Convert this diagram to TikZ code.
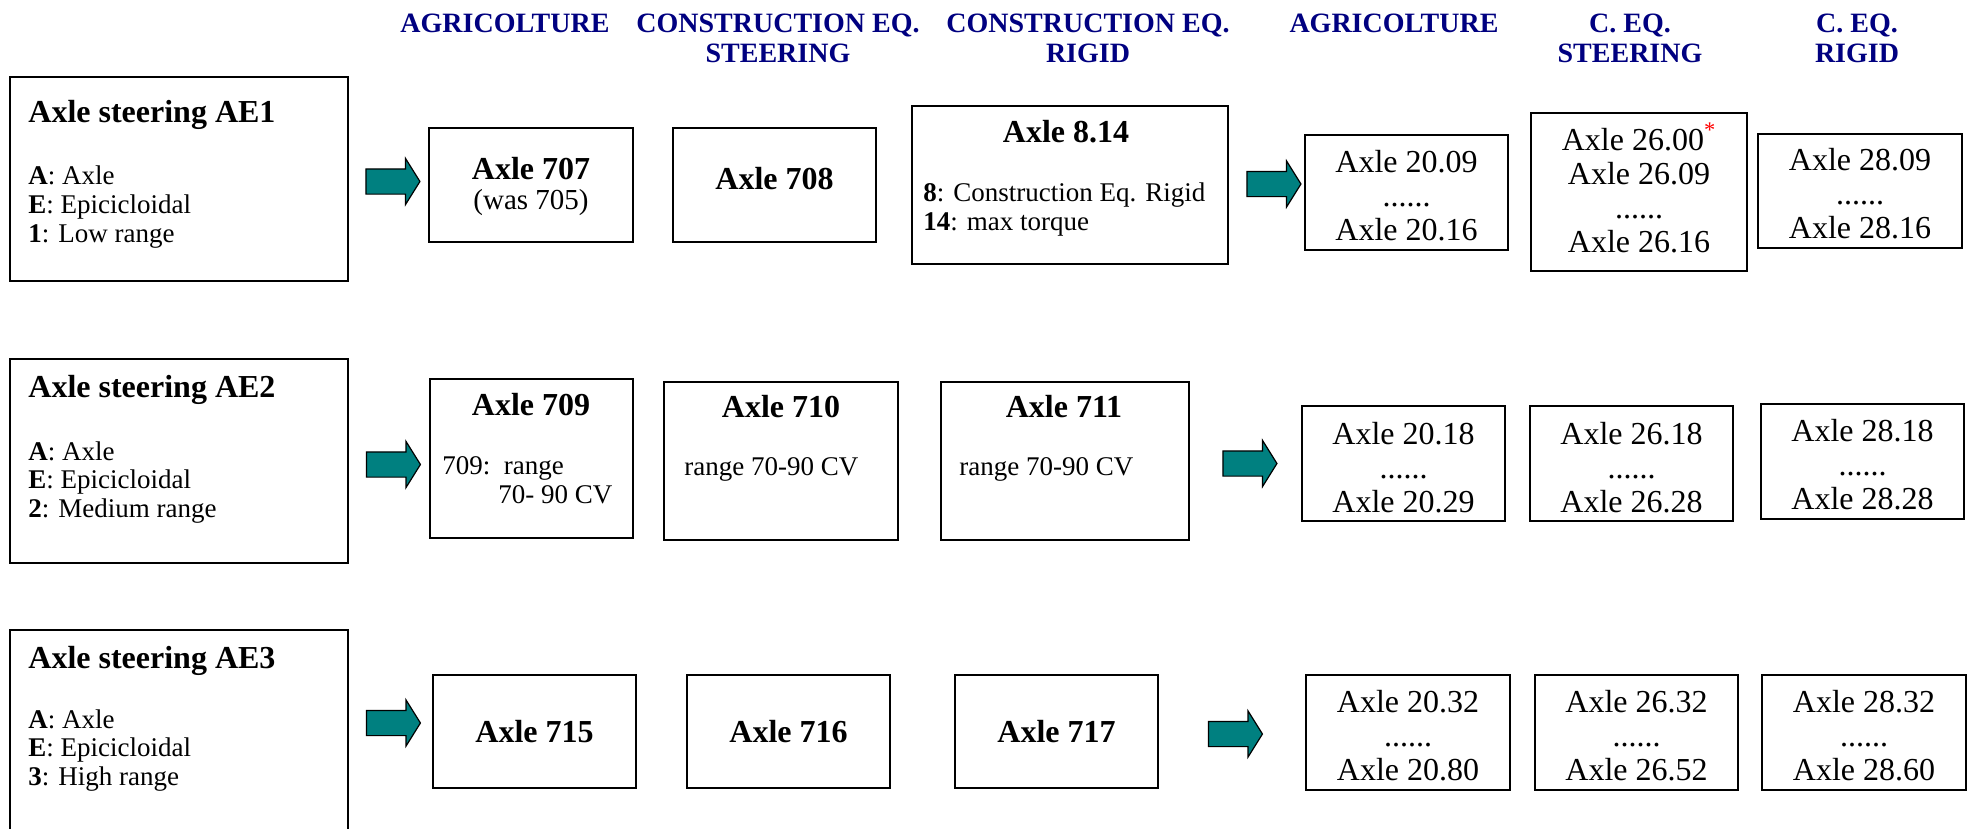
\documentclass[tikz,border=0pt]{standalone}
\usepackage{fontspec}
\setmainfont{Liberation Serif}
\usetikzlibrary{shapes.arrows}
\definecolor{headblue}{RGB}{0,0,128}
\tikzset{
  box/.style={draw, line width=0.8pt, shape=rectangle, inner sep=0pt},
  colhead/.style={anchor=base, align=center, inner sep=0pt, text=headblue, font=\bfseries\fontsize{14}{15}\selectfont},
  boxtitle/.style={anchor=base, inner sep=0pt, font=\bfseries\fontsize{16}{19}\selectfont},
  boxtext/.style={anchor=base west, align=left, inner sep=0pt, font=\fontsize{13.5}{14.25}\selectfont},
  axlelist/.style={anchor=base, align=center, inner sep=0pt, font=\fontsize{16}{17}\selectfont},
  blockarrow/.style={single arrow, draw, fill=teal, line width=0.6pt, inner xsep=0pt, inner ysep=6pt, minimum height=27pt, single arrow head extend=5.25pt, single arrow tip angle=116},
}

\begin{document}
\begin{tikzpicture}[x=0.5pt, y=-0.5pt]
		\useasboundingbox (0,0) rectangle (1975,829);
		% Column headings (anchor at the baseline of the last line):
		\node[colhead] (hagr) at (505,33) {AGRICOLTURE};
		\node[colhead] (hces) at (778,63) {CONSTRUCTION EQ.\\STEERING};
		\node[colhead] (hcer) at (1088,63) {CONSTRUCTION EQ.\\RIGID};
		\node[colhead] (hagrb) at (1394,33) {AGRICOLTURE};
		\node[colhead] (hcs) at (1630,63) {C. EQ.\\STEERING};
		\node[colhead] (hcr) at (1857,63) {C. EQ.\\RIGID};
		% Row AE1:
		\node[box, minimum width=169pt, minimum height=102pt] (ae1) at (179,179) {};
		\node[boxtitle, anchor=base west] (ae1t) at (28,123) {Axle steering AE1};
		\node[boxtext] (ae1x) at (28,242) {\textbf{A}: Axle\\\textbf{E}: Epicicloidal\\\textbf{1}: Low range};
		\node[blockarrow] (ar1) at (389,181.5) {};
		\node[box, minimum width=102pt, minimum height=57pt] (b707) at (531,185) {};
		\node[boxtitle] (b707t) at (531,179) {Axle 707};
		\node[anchor=base, inner sep=0pt, font=\fontsize{14.5}{15}\selectfont] (b707x) at (531,209) {(was 705)};
		\node[box, minimum width=101.5pt, minimum height=57pt] (b708) at (774.5,185) {};
		\node[boxtitle] (b708t) at (774.5,190) {Axle 708};
		\node[box, minimum width=158pt, minimum height=79pt] (b814) at (1070,185) {};
		\node[boxtitle] (b814t) at (1066,142) {Axle 8.14};
		\node[boxtext] (b814x) at (923,230) {\textbf{8}: Construction Eq. Rigid\\\textbf{14}: max torque};
		\node[blockarrow] (ar2) at (1270,184) {};
		\node[box, minimum width=101.5pt, minimum height=57.5pt] (b2009) at (1406.5,192.5) {};
		\node[axlelist] (b2009x) at (1406.5,240) {Axle 20.09\\......\\Axle 20.16};
		\node[box, minimum width=108pt, minimum height=79pt] (b2600) at (1639,192) {};
		\node[axlelist] (b2600x) at (1639,252) {Axle 26.00\textsuperscript{\textcolor{red}{*}}\\Axle 26.09\\......\\Axle 26.16};
		\node[box, minimum width=102pt, minimum height=57pt] (b2809) at (1860,191) {};
		\node[axlelist] (b2809x) at (1860,238) {Axle 28.09\\......\\Axle 28.16};
		% Row AE2:
		\node[box, minimum width=169pt, minimum height=102pt] (ae2) at (179,461) {};
		\node[boxtitle, anchor=base west] (ae2t) at (28,397) {Axle steering AE2};
		\node[boxtext] (ae2x) at (28,517) {\textbf{A}: Axle\\\textbf{E}: Epicicloidal\\\textbf{2}: Medium range};
		\node[blockarrow] (ar3) at (389.5,464.5) {};
		\node[box, minimum width=101.5pt, minimum height=79.5pt] (b709) at (531.5,458.5) {};
		\node[boxtitle] (b709t) at (531,415) {Axle 709};
		\node[boxtext] (b709x) at (442,503) {709:\ \ range\\\hspace*{28pt}70- 90 CV};
		\node[box, minimum width=117pt, minimum height=79pt] (b710) at (781,461) {};
		\node[boxtitle] (b710t) at (781,417) {Axle 710};
		\node[boxtext] (b710x) at (684,475) {range 70-90 CV};
		\node[box, minimum width=124pt, minimum height=79pt] (b711) at (1065,461) {};
		\node[boxtitle] (b711t) at (1064,417) {Axle 711};
		\node[boxtext] (b711x) at (959,475) {range 70-90 CV};
		\node[blockarrow] (ar4) at (1246,463.5) {};
		\node[box, minimum width=101.5pt, minimum height=57.5pt] (b2018) at (1403.5,463.5) {};
		\node[axlelist] (b2018x) at (1403.5,512) {Axle 20.18\\......\\Axle 20.29};
		\node[box, minimum width=101.5pt, minimum height=57.5pt] (b2618) at (1631.5,463.5) {};
		\node[axlelist] (b2618x) at (1631.5,512) {Axle 26.18\\......\\Axle 26.28};
		\node[box, minimum width=101.5pt, minimum height=57.5pt] (b2818) at (1862.5,461.5) {};
		\node[axlelist] (b2818x) at (1862.5,509) {Axle 28.18\\......\\Axle 28.28};
		% Row AE3:
		\node[box, minimum width=169pt, minimum height=102pt] (ae3) at (179,732) {};
		\node[boxtitle, anchor=base west] (ae3t) at (28,668) {Axle steering AE3};
		\node[boxtext] (ae3x) at (28,785) {\textbf{A}: Axle\\\textbf{E}: Epicicloidal\\\textbf{3}: High range};
		\node[blockarrow] (ar5) at (389.5,723) {};
		\node[box, minimum width=101.5pt, minimum height=56.5pt] (b715) at (534.5,731.5) {};
		\node[boxtitle] (b715t) at (534.5,742) {Axle 715};
		\node[box, minimum width=101.5pt, minimum height=56.5pt] (b716) at (788.5,731.5) {};
		\node[boxtitle] (b716t) at (788.5,742) {Axle 716};
		\node[box, minimum width=101.5pt, minimum height=56.5pt] (b717) at (1056.5,731.5) {};
		\node[boxtitle] (b717t) at (1056.5,742) {Axle 717};
		\node[blockarrow] (ar6) at (1231.5,734) {};
		\node[box, minimum width=102pt, minimum height=57.5pt] (b2032) at (1408,732.5) {};
		\node[axlelist] (b2032x) at (1408,780) {Axle 20.32\\......\\Axle 20.80};
		\node[box, minimum width=101.5pt, minimum height=57.5pt] (b2632) at (1636.5,732.5) {};
		\node[axlelist] (b2632x) at (1636.5,780) {Axle 26.32\\......\\Axle 26.52};
		\node[box, minimum width=102pt, minimum height=57.5pt] (b2832) at (1864,732.5) {};
		\node[axlelist] (b2832x) at (1864,780) {Axle 28.32\\......\\Axle 28.60};
	\end{tikzpicture}
\end{document}
